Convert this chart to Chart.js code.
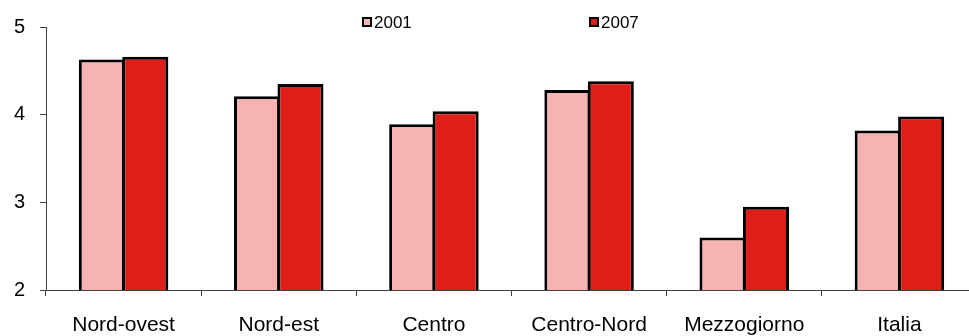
<!DOCTYPE html>
<html>
<head>
<meta charset="utf-8">
<script src="https://cdn.jsdelivr.net/npm/chart.js@4/dist/chart.umd.min.js"></script>
<style>
  html, body { margin: 0; padding: 0; background: #fff; }
  #frame { width: 969px; height: 336px; overflow: hidden; position: relative; }
  #inner { width: 985px; height: 336px; position: absolute; left: 0; top: 0; }
</style>
</head>
<body>
<div id="frame"><div id="inner"><canvas id="chart"></canvas></div></div>
<script>
// Regions and yearly values
const categories = ['Nord-ovest', 'Nord-est', 'Centro', 'Centro-Nord', 'Mezzogiorno', 'Italia'];
const seriesNames = ['2001', '2007'];
const values2001 = [4.63, 4.21, 3.89, 4.28, 2.60, 3.82];
const values2007 = [4.66, 4.35, 4.04, 4.38, 2.95, 3.98];
const yTicks = [2, 3, 4, 5];

const PINK = '#F7B2B2';
const RED = '#DF1E1A';
const AXIS = '#404040';
const FONT = "'Liberation Sans', Arial, sans-serif";

// Legend drawn inside the plot area, two entries spread apart
const spreadLegend = {
  id: 'spreadLegend',
  afterDraw(chart, args, opts) {
    const ctx = chart.ctx;
    ctx.save();
    chart.data.datasets.forEach((ds, i) => {
      const x = opts.positions[i];
      const y = opts.y;
      ctx.fillStyle = '#000';
      ctx.fillRect(x, y - 5, 10, 10);
      ctx.fillStyle = ds.backgroundColor;
      ctx.fillRect(x + 2, y - 3, 6, 6);
      ctx.fillStyle = '#000';
      ctx.font = opts.fontSize + 'px ' + FONT;
      ctx.textBaseline = 'middle';
      ctx.textAlign = 'left';
      ctx.fillText(ds.label, x + 12, y + 1);
    });
    ctx.restore();
  }
};

new Chart(document.getElementById('chart'), {
  type: 'bar',
  data: {
    labels: categories,
    datasets: [
      { label: seriesNames[0], data: values2001, backgroundColor: PINK, borderColor: '#000', borderWidth: 3 },
      { label: seriesNames[1], data: values2007, backgroundColor: RED, borderColor: '#000', borderWidth: 3 }
    ]
  },
  options: {
    responsive: true,
    maintainAspectRatio: false,
    animation: false,
    devicePixelRatio: 1,
    layout: { padding: { top: 23, right: 8, left: 0, bottom: 0 } },
    // bars slightly wider than their slot so the pair shares one middle edge
    datasets: { bar: { categoryPercentage: 0.56, barPercentage: 1.06, borderSkipped: 'bottom', inflateAmount: 0 } },
    plugins: {
      legend: { display: false },
      tooltip: { enabled: false },
      spreadLegend: { positions: [362, 589], y: 22, fontSize: 17 }
    },
    scales: {
      x: {
        offset: true,
        grid: { offset: true, drawOnChartArea: false, drawTicks: true, tickLength: 6, color: AXIS },
        border: { display: true, color: AXIS, width: 1 },
        ticks: { color: '#000', font: { family: FONT, size: 21 }, padding: 17, maxRotation: 0, autoSkip: false },
        afterFit(scale) { scale.height = 46; }
      },
      y: {
        min: 2,
        max: 5,
        afterBuildTicks(scale) { scale.ticks = yTicks.map(v => ({ value: v })); },
        grid: { drawOnChartArea: false, drawTicks: true, tickLength: 6, color: AXIS },
        border: { display: true, color: AXIS, width: 1 },
        ticks: { color: '#000', font: { family: FONT, size: 20 }, padding: 15 },
        afterFit(scale) { scale.width = 46; }
      }
    }
  },
  plugins: [spreadLegend]
});
</script>
</body>
</html>
